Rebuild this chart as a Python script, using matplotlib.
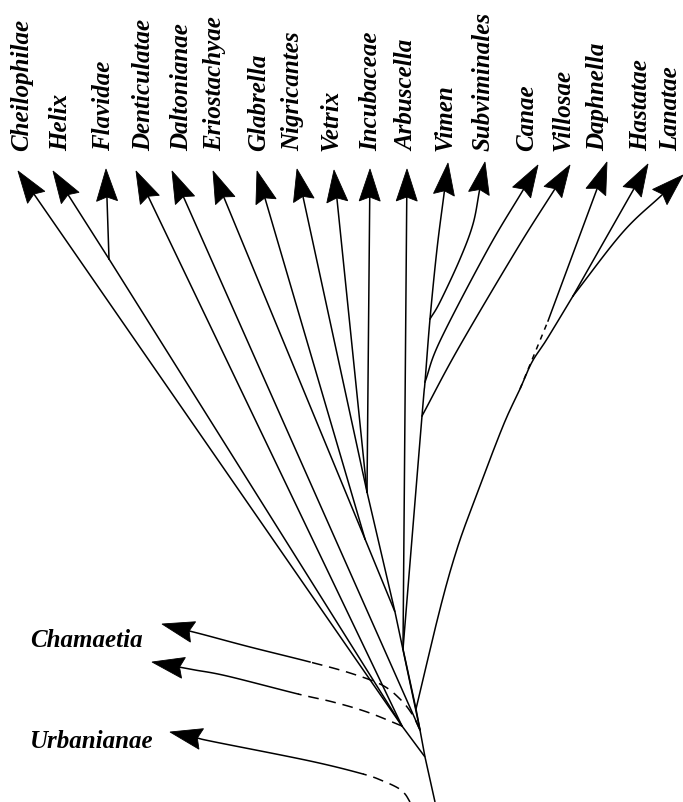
import numpy as np
import matplotlib
matplotlib.use('Agg')
import matplotlib.pyplot as plt
from matplotlib.patches import Polygon

# taxa at the top, left to right (positions, y grows downwards)
top_taxa = ['Cheilophilae', 'Helix', 'Flavidae', 'Denticulatae', 'Daltonianae',
            'Eriostachyae', 'Glabrella', 'Nigricantes', 'Vetrix', 'Incubaceae',
            'Arbuscella', 'Vimen', 'Subviminales', 'Canae', 'Villosae',
            'Daphnella', 'Hastatae', 'Lanatae']
tip_x = [18, 53, 106, 136, 172, 213, 257, 297, 334, 370, 407, 448, 485, 538, 570, 607, 648, 683]
tip_y = [172, 172, 170, 172, 172, 172, 172, 170, 171, 170, 170, 164, 163, 166, 166, 163, 165, 176]
label_x = [28, 67, 110, 150, 188, 221, 265, 299, 338, 377, 413, 452, 490, 533, 570, 604, 647, 677]
label_y = 151

# internal nodes of the tree
node_names = ['R', 'A', 'B', 'C', 'D', 'E', 'F', 'G', 'H', 'HF', 'V1', 'V2', 'V3', 'P', 'DL']
node_x = [435, 425, 402, 420, 416, 403, 395, 367, 365, 109, 430, 425, 422, 520, 573]
node_y = [803, 758, 727, 731, 710, 650, 613, 493, 540, 260, 320, 383, 417, 390, 297]
nd = {n: (x, y) for n, x, y in zip(node_names, node_x, node_y)}

# parent node and bend points of each top branch
top_parent = ['B', 'HF', 'HF', 'B', 'C', 'H', 'H', 'G', 'G', 'G',
              'E', 'E', 'V1', 'V2', 'V3', 'P', 'DL', 'DL']
top_via_x = [[], [], [], [], [], [], [], [], [], [],
             [], [422, 425, 430, 437], [440, 460, 473], [440, 488], [458, 517],
             [548], [], [623]]
top_via_y = [[], [], [], [], [], [], [], [], [], [],
             [], [417, 383, 320, 250], [303, 260, 225], [342, 250], [350, 250],
             [322], [], [233]]

# inner branches
edge_from = ['R', 'A', 'A', 'B', 'C', 'F', 'F', 'C', 'D', 'D']
edge_to = ['A', 'B', 'C', 'HF', 'F', 'H', 'G', 'D', 'E', 'DL']
edge_via_x = [[], [], [], [], [], [], [], [], [], [440, 457, 475, 503, 520, 532, 547]]
edge_via_y = [[], [], [], [], [], [], [], [], [], [610, 550, 500, 427, 390, 363, 340]]

# side branches: dashed part, then solid part, then arrow
side_taxa = ['Chamaetia', '', 'Urbanianae']
side_dash_x = [[420, 412, 400, 382, 350, 310], [402, 367, 333, 298], [410, 405, 398, 383, 363]]
side_dash_y = [[731, 715, 700, 686, 674, 663], [727, 713, 703, 695], [803, 795, 789, 782, 775]]
side_solid_x = [[250, 205], [227, 195], [310, 215]]
side_solid_y = [[648, 636], [677, 671], [762, 743]]
side_tip_x = [162, 152, 170]
side_tip_y = [625, 663, 733]
side_label_x = [30, 30, 30]
side_label_y = [647, 700, 748]

LW = 1.1
FONT = dict(family='Liberation Serif', style='italic', weight='bold', size=18)


def smooth(px, py, n=16):
    P = np.column_stack([px, py]).astype(float)
    if len(P) < 3:
        return P[:, 0], P[:, 1]
    Q = np.vstack([2 * P[0] - P[1], P, 2 * P[-1] - P[-2]])
    t = np.linspace(0, 1, n, endpoint=False)[:, None]
    out = []
    for i in range(1, len(Q) - 2):
        p0, p1, p2, p3 = Q[i - 1], Q[i], Q[i + 1], Q[i + 2]
        out.append(0.5 * (2 * p1 + (p2 - p0) * t + (2 * p0 - 5 * p1 + 4 * p2 - p3) * t ** 2
                          + (3 * p1 - p0 - 3 * p2 + p3) * t ** 3))
    out.append(Q[-2][None, :])
    out = np.vstack(out)
    return out[:, 0], out[:, 1]


def arrowhead(ax, tx, ty, fx, fy, L=32, W=10.5, notch=4):
    u = np.array([tx - fx, ty - fy], float)
    u /= np.hypot(*u)
    p = np.array([-u[1], u[0]])
    tip = np.array([tx, ty], float)
    back = tip - L * u
    ax.add_patch(Polygon([tip, back + W * p, tip - (L - notch) * u, back - W * p],
                         closed=True, fc='k', ec='k', lw=0.6, zorder=3))
    return tip - (L - notch) * u


fig = plt.figure(figsize=(6.83, 8.03), dpi=100)
ax = fig.add_axes([0, 0, 1, 1])
ax.set_xlim(0, 683)
ax.set_ylim(803, 0)
ax.axis('off')

for a, b, vx, vy in zip(edge_from, edge_to, edge_via_x, edge_via_y):
    xs = [nd[a][0]] + vx + [nd[b][0]]
    ys = [nd[a][1]] + vy + [nd[b][1]]
    sx, sy = smooth(xs, ys)
    ax.plot(sx, sy, color='k', lw=LW, solid_capstyle='butt')

for i, name in enumerate(top_taxa):
    px, py = nd[top_parent[i]]
    vx, vy = top_via_x[i], top_via_y[i]
    fx, fy = (vx[-1], vy[-1]) if vx else (px, py)
    end = arrowhead(ax, tip_x[i], tip_y[i], fx, fy)
    xs = [px] + vx + [end[0]]
    ys = [py] + vy + [end[1]]
    if name == 'Daphnella':
        ax.plot(xs[:2], ys[:2], color='k', lw=LW, ls=(0, (3.5, 3.5)))
        ax.plot(xs[1:], ys[1:], color='k', lw=LW)
    else:
        sx, sy = smooth(xs, ys)
        ax.plot(sx, sy, color='k', lw=LW)
    ax.text(label_x[i], label_y, name, rotation=90, rotation_mode='anchor',
            ha='left', va='baseline', **FONT)

for i, name in enumerate(side_taxa):
    dx, dy = side_dash_x[i], side_dash_y[i]
    qx, qy = side_solid_x[i], side_solid_y[i]
    end = arrowhead(ax, side_tip_x[i], side_tip_y[i], qx[-1], qy[-1])
    xs = dx + qx + [end[0]]
    ys = dy + qy + [end[1]]
    n = 16
    sx, sy = smooth(xs, ys, n)
    k = (len(dx) - 1) * n
    ax.plot(sx[:k + 1], sy[:k + 1], color='k', lw=LW, ls=(0, (7, 4.5)))
    ax.plot(sx[k:], sy[k:], color='k', lw=LW)
    if name:
        ax.text(side_label_x[i], side_label_y[i], name, ha='left', va='baseline', **FONT)

fig.savefig('out.png', dpi=100)
